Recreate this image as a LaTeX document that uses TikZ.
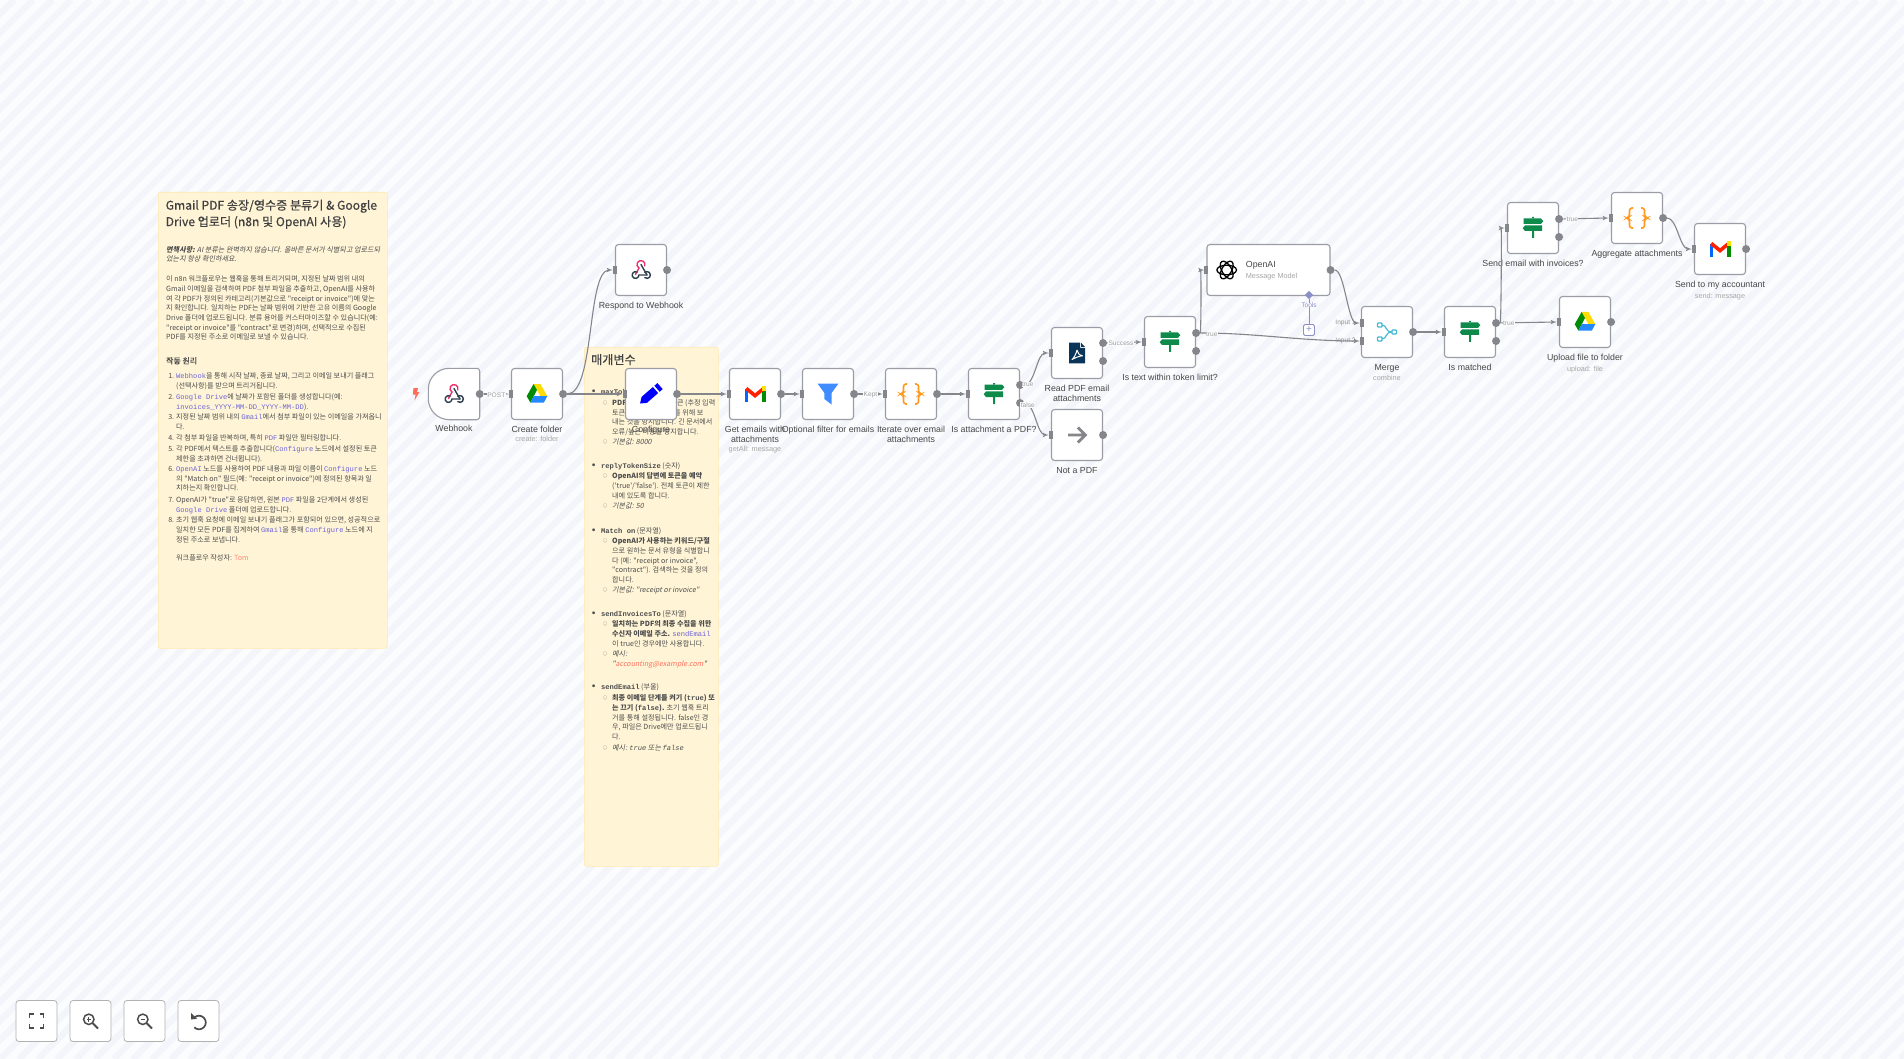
\documentclass[tikz,border=0pt]{standalone}
\usepackage{fontspec}
\setmainfont{Liberation Sans}
\setmonofont{Liberation Mono}
\newfontfamily\krfont{Noto Sans CJK KR}
\newfontfamily\krslant[FakeSlant=0.2]{Noto Sans CJK KR}
\newfontfamily\krhead[FakeBold=0.5]{Noto Sans CJK KR}
\usetikzlibrary{shapes,arrows,positioning}

\definecolor{canvasbg}{HTML}{FBFCFE}
\definecolor{stripebg}{HTML}{F4F5FA}
\definecolor{notefill}{HTML}{FFF4D6}
\definecolor{noteedge}{HTML}{FFE9AE}
\definecolor{boxedge}{HTML}{9A9CA6}
\definecolor{wire}{HTML}{85858C}
\definecolor{codeblue}{HTML}{6B63D8}
\definecolor{coral}{HTML}{FF6D5A}
\definecolor{bodytext}{HTML}{4C4C4C}
\definecolor{toolblue}{HTML}{8A8FC8}
\definecolor{signgreen}{HTML}{0E8A4A}
\definecolor{bracecol}{HTML}{FF9A1F}
\definecolor{pdfnavy}{HTML}{0B3558}
\definecolor{mergeteal}{HTML}{45B8D3}
\definecolor{hookpink}{HTML}{E8316B}
\definecolor{hookdark}{HTML}{2F3F4F}

\newcommand{\cod}[1]{{\ttfamily\color{codeblue}#1}}
\newcommand{\keyw}[1]{{\ttfamily\bfseries #1}}
\newcommand{\topdot}{\llap{\raisebox{1.6pt}{\fontsize{3.2}{4}\selectfont ●}\hspace{6pt}}}
\newcommand{\subdot}{\llap{\raisebox{1.1pt}{\fontsize{4.2}{5}\selectfont ○}\hspace{5pt}}}

% Icons
\tikzset{
  hookicon/.pic={
    \draw [hookpink, line width=1.4pt, line cap=round] (-5.5,4.5) -- (-2,-2) arc (120:380:4);
    \draw [hookdark, line width=1.4pt, line cap=round] (0,-5.5) -- (6,5);
    \draw [hookdark, line width=1.4pt, line cap=round] (-3.8,2.1) arc (-60:-360:3.4) -- (6,5);
    \draw [hookdark, line width=1.4pt, line cap=round] (3.8,7.6) arc (130:-130:3.4);
  },
  driveicon/.pic={
    \fill [yellow!80!orange] (-3.4,-10) -- (3.4,-10) -- (10.3,2.2) -- (3.4,2.2) -- cycle;
    \fill [green!55!black] (-3.4,-10) -- (0,-4) -- (-6.6,8.6) -- (-10.3,2.2) -- cycle;
    \fill [blue!55!cyan!85] (-3.4,2.2) -- (10.3,2.2) -- (6.8,8.6) -- (-6.6,8.6) -- cycle;
  },
  penicon/.pic={
    \begin{scope}[rotate=41]
      \fill [blue] (-14.5,0) -- (-9,-4) -- (6,-4) -- (6,4) -- (-9,4) -- cycle;
      \fill [blue] (8,-4) -- (12,-4) -- (12,4) -- (8,4) -- cycle;
    \end{scope}
  },
  gmailicon/.pic={
    \fill [blue!60!cyan] (-10.5,-5) rectangle (-6.6,7.6);
    \fill [green!55!black] (6.6,-5) rectangle (10.5,7.6);
    \draw [red!75!orange, line width=3.6pt] (-8.8,-5.6) -- (0,1.6) -- (8.8,-5.6);
    \fill [yellow!85!orange] (6.8,-7.6) rectangle (10.5,-3.4);
  },
  filtericon/.pic={
    \fill [blue!60!cyan!75] (-10.5,-10.5) -- (10.5,-10.5) -- (3.6,-1) -- (3.6,10.5) -- (-3.6,5) -- (-3.6,-1) -- cycle;
  },
  braceicon/.pic={
    \draw [bracecol, line width=1.6pt, rounded corners=2.5pt]
      (-4,-10) -- (-7.5,-10) -- (-7.5,-1.2) -- (-10.5,0) -- (-7.5,1.2) -- (-7.5,10) -- (-4,10)
      (4,-10) -- (7.5,-10) -- (7.5,-1.2) -- (10.5,0) -- (7.5,1.2) -- (7.5,10) -- (4,10);
  },
  signicon/.pic={
    \fill [signgreen] (-1,-11) rectangle (1,-9.5) (-1,3.2) rectangle (1,10);
    \fill [signgreen] (-9.5,-9.5) -- (8,-9.5) -- (10.3,-6.8) -- (8,-4.2) -- (-9.5,-4.2) -- cycle;
    \fill [signgreen] (9,-2.6) -- (-8,-2.6) -- (-10.3,0.2) -- (-8,3) -- (9,3) -- cycle;
  },
  pdficon/.pic={
    \fill [pdfnavy] (-8,-10.3) -- (3,-10.3) -- (3,-5) -- (8,-5) -- (8,10.3) -- (-8,10.3) -- cycle;
    \fill [pdfnavy] (4,-10.3) -- (8,-6) -- (4,-6) -- cycle;
    \draw [white, line width=1pt, line join=round] (0,-3) .. controls (-1,1) and (-3,5) .. (-5,6.5)
      .. controls (-2,5) and (2,3) .. (5.5,2.8) .. controls (2,2) and (0.5,0) .. (0,-3);
  },
  nexticon/.pic={
    \draw [wire, line width=2.8pt] (-9,0) -- (8,0) (0.8,-7.5) -- (8.4,0) -- (0.8,7.5);
  },
  aiicon/.pic={
    \foreach \a in {0,60,120}
      \draw [black, line width=1.3pt, rotate=\a] (0,0) ellipse (9.8 and 4.8);
  },
  mergeicon/.pic={
    \draw [mergeteal, line width=1.2pt, rounded corners=0.8pt] (-9.5,-9) rectangle (-5,-5) (-9.5,5) rectangle (-5,9) (5,-2) rectangle (9.5,2);
    \draw [mergeteal, line width=1.2pt] (-5,-7) .. controls (0,-7) and (-2,0) .. (5,0) (-5,7) .. controls (0,7) and (-2,0) .. (5,0);
  },
  fiticon/.pic={
    \draw [black!70, line width=1.9pt]
      (-7,-3) -- (-7,-7) -- (-3,-7) (3,-7) -- (7,-7) -- (7,-3)
      (7,3) -- (7,7) -- (3,7) (-3,7) -- (-7,7) -- (-7,3);
  },
  zoominicon/.pic={
    \draw [black!70, line width=1.5pt] (-1.7,-1.7) circle (5.2);
    \draw [black!70, line width=2pt] (2.2,2.2) -- (7.5,7.5);
    \draw [black!70, line width=1.2pt] (-4,-1.7) -- (0.6,-1.7) (-1.7,-4) -- (-1.7,0.6);
  },
  zoomouticon/.pic={
    \draw [black!70, line width=1.5pt] (-1.7,-1.7) circle (5.2);
    \draw [black!70, line width=2pt] (2.2,2.2) -- (7.5,7.5);
    \draw [black!70, line width=1.2pt] (-4,-1.7) -- (0.6,-1.7);
  },
  undoicon/.pic={
    \draw [black!70, line width=1.7pt] (-4.3,-3.3) arc (-135:135:6.8);
    \fill [black!70] (-7.5,-8) -- (-1.5,-2.2) -- (-7.5,-1.5) -- cycle;
  },
  bolticon/.pic={
    \fill [coral] (-2.5,-6) -- (2,-6) -- (1,-2) -- (3.4,-2) -- (-1.5,6.5) -- (-0.4,0.5) -- (-3.2,0.5) -- cycle;
  }
}

\begin{document}
\begin{tikzpicture}[x=1pt, y=-1pt, node distance=83pt]
        % Define block styles
        \tikzstyle{task} = [rectangle, draw=boxedge, line width=1.1pt, fill=white, rounded corners=3pt, minimum width=51pt, minimum height=51pt, inner sep=0pt]
        \tikzstyle{trigger} = [rectangle, minimum width=51pt, minimum height=51pt, inner sep=0pt]
        \tikzstyle{note} = [rectangle, draw=noteedge, line width=0.6pt, fill=notefill, rounded corners=2pt, anchor=north west, inner sep=0pt]
        \tikzstyle{dot} = [circle, fill=wire, minimum size=8pt, inner sep=0pt]
        \tikzstyle{tab} = [rectangle, fill=wire, minimum width=4pt, minimum height=8pt, inner sep=0pt]
        \tikzstyle{nodetitle} = [font=\fontsize{8.8}{10}\selectfont, text=black!72, align=center, inner sep=0pt]
        \tikzstyle{nodesub} = [font=\fontsize{7.3}{9}\selectfont, text=black!35, inner sep=0pt]
        \tikzstyle{edgelabel} = [font=\fontsize{6.6}{8}\selectfont, text=black!38, fill=canvasbg, inner sep=0.4pt, yshift=-0.8pt]
        \tikzstyle{portlabel} = [font=\fontsize{6.6}{8}\selectfont, text=black!42, inner sep=0pt]
        \tikzstyle{button} = [rectangle, draw=black!30, line width=0.8pt, fill=white, rounded corners=3pt, minimum size=41pt, inner sep=0pt]
        \tikzstyle{notetext} = [font=\fontsize{7.1}{9.7}\krfont\selectfont, text=bodytext, align=left, anchor=north west, inner sep=0pt]
        \tikzstyle{notehead} = [font=\fontsize{12.1}{16.4}\krhead\selectfont, text=black!75, align=left, anchor=north west, inner sep=0pt]
        \tikzstyle{line} = [draw=wire, line width=1.1pt, -latex']
        \tikzstyle{stripe} = [stripebg, line width=6.7pt]

        % Background
        \useasboundingbox (0,0) rectangle (1904,1059);
        \fill [canvasbg] (0,0) rectangle (1904,1059);
        \begin{scope}
            \clip (0,0) rectangle (1904,1059);
            \foreach \s in {-1064,-1045,...,1904}
                \draw [stripe] (\s,1059) -- (\s+1059,0);
        \end{scope}

        % Sticky notes
        \node [note, minimum width=229pt, minimum height=456pt] (howto) at (158,192) {};
        \node [notehead] (howtohead) at (165.5,199.5) {Gmail PDF 송장/영수증 분류기 \& Google\\Drive 업로더 (n8n 및 OpenAI 사용)};
        \node [notetext] (disclaimer) at (166,246) {\krslant{\bfseries 면책사항:} AI 분류는 완벽하지 않습니다. 올바른 문서가 식별되고 업로드되\\\krslant 었는지 항상 확인하세요.};
        \node [notetext] (intro) at (166,275.5) {이 n8n 워크플로우는 웹훅을 통해 트리거되며, 지정된 날짜 범위 내의\\Gmail 이메일을 검색하여 PDF 첨부 파일을 추출하고, OpenAI를 사용하\\여 각 PDF가 정의된 카테고리(기본값으로 "receipt or invoice")에 맞는\\지 확인합니다. 일치하는 PDF는 날짜 범위에 기반한 고유 이름의 Google\\Drive 폴더에 업로드됩니다. 분류 용어를 커스터마이즈할 수 있습니다(예:\\"receipt or invoice"를 "contract"로 변경)하며, 선택적으로 수집된\\PDF를 지정된 주소로 이메일로 보낼 수 있습니다.};
        \node [notetext, font=\fontsize{7.9}{10}\krhead\selectfont] (howhead) at (166,357) {작동 원리};
        \node [notetext] (stepone) at (176,372.5) {\llap{1.\hspace{2pt}}\cod{Webhook}을 통해 시작 날짜, 종료 날짜, 그리고 이메일 보내기 플래그\\(선택사항)를 받으며 트리거됩니다.};
        \node [notetext] (steptwo) at (176,393.5) {\llap{2.\hspace{2pt}}\cod{Google Drive}에 날짜가 포함된 폴더를 생성합니다(예:\\\cod{invoices\_YYYY-MM-DD\_YYYY-MM-DD}).};
        \node [notetext] (stepthree) at (176,413.5) {\llap{3.\hspace{2pt}}지정된 날짜 범위 내의 \cod{Gmail}에서 첨부 파일이 있는 이메일을 가져옵니\\다.};
        \node [notetext] (stepfour) at (176,434.5) {\llap{4.\hspace{2pt}}각 첨부 파일을 반복하며, 특히 \cod{PDF} 파일만 필터링합니다.};
        \node [notetext] (stepfive) at (176,445.5) {\llap{5.\hspace{2pt}}각 PDF에서 텍스트를 추출합니다(\cod{Configure} 노드에서 설정된 토큰\\제한을 초과하면 건너뜁니다).};
        \node [notetext] (stepsix) at (176,465.5) {\llap{6.\hspace{2pt}}\cod{OpenAI} 노드를 사용하여 PDF 내용과 파일 이름이 \cod{Configure} 노드\\의 "Match on" 필드(예: "receipt or invoice")에 정의된 항목과 일\\치하는지 확인합니다.};
        \node [notetext] (stepseven) at (176,496.5) {\llap{7.\hspace{2pt}}OpenAI가 "true"로 응답하면, 원본 \cod{PDF} 파일을 2단계에서 생성된\\\cod{Google Drive} 폴더에 업로드합니다.};
        \node [notetext] (stepeight) at (176,516.5) {\llap{8.\hspace{2pt}}초기 웹훅 요청에 이메일 보내기 플래그가 포함되어 있으면, 성공적으로\\일치한 모든 PDF를 집계하여 \cod{Gmail}을 통해 \cod{Configure} 노드에 지\\정된 주소로 보냅니다.};
        \node [notetext] (credit) at (176,554.5) {워크플로우 작성자: \textcolor{coral!80}{Tom}};

        \node [note, minimum width=134pt, minimum height=519pt] (params) at (584,347) {};
        \node [notehead] (paramshead) at (591,354) {매개변수};
        \node [notetext] (maxkey) at (601,388.5) {\topdot\keyw{maxTokenSize} (숫자)};
        \node [notetext] (maxtext) at (612,399.5) {\subdot{\bfseries PDF}에서 허용 최대 토큰 (추정 입력\\토큰). 초과 요청 오류를 위해 보\\내는 것을 방지합니다. 긴 문서에서\\오류/높은 비용을 방지합니다.};
        \node [notetext] (maxdefault) at (612,438.5) {\subdot\krslant 기본값: 8000};
        \node [notetext] (replykey) at (601,462.5) {\topdot\keyw{replyTokenSize} (숫자)};
        \node [notetext] (replytext) at (612,472.5) {\subdot{\bfseries OpenAI의 답변에 토큰을 예약}\\('true'/'false'). 전체 토큰이 제한\\내에 있도록 합니다.};
        \node [notetext] (replydefault) at (612,502.5) {\subdot\krslant 기본값: 50};
        \node [notetext] (matchkey) at (601,527.5) {\topdot\keyw{Match on} (문자열)};
        \node [notetext] (matchtext) at (612,537.5) {\subdot{\bfseries OpenAI가 사용하는 키워드/구절}\\으로 원하는 문서 유형을 식별합니\\다 (예: "receipt or invoice",\\"contract"). 검색하는 것을 정의\\합니다.};
        \node [notetext] (matchdefault) at (612,586.5) {\subdot\krslant 기본값: "receipt or invoice"};
        \node [notetext] (sendkey) at (601,610.5) {\topdot\keyw{sendInvoicesTo} (문자열)};
        \node [notetext] (sendtext) at (612,620.5) {\subdot{\bfseries 일치하는 PDF의 최종 수집을 위한}\\{\bfseries 수신자 이메일 주소.} \cod{sendEmail}\\이 true인 경우에만 사용합니다.};
        \node [notetext] (sendexample) at (612,650.5) {\subdot\krslant 예시:\\\krslant "\textcolor{coral}{accounting@example.com}"};
        \node [notetext] (emailkey) at (601,683.5) {\topdot\keyw{sendEmail} (부울)};
        \node [notetext] (emailtext) at (612,694.5) {\subdot{\bfseries 최종 이메일 단계를 켜기 (\keyw{true}) 또}\\{\bfseries 는 끄기 (\keyw{false}).} 초기 웹훅 트리\\거를 통해 설정됩니다. false인 경\\우, 파일은 Drive에만 업로드됩니\\다.};
        \node [notetext] (emailexample) at (612,744.5) {\subdot\krslant 예시: {\ttfamily\itshape true} 또는 {\ttfamily\itshape false}};

        % Nodes
        \node [trigger] (hook) at (454,394) {};
        \draw [draw=boxedge, fill=white, line width=1.1pt, rounded corners=3pt] (hook.north east) -- (hook.south east) [rounded corners=21pt] -- (hook.south west) -- (hook.north west) [rounded corners=3pt] -- cycle;
        \node [task, right of=hook] (folder) {};
        \node [task, right of=folder, node distance=114pt] (configure) {};
        \node [task, right of=configure, node distance=104pt] (getmail) {};
        \node [task, right of=getmail, node distance=73pt] (filter) {};
        \node [task, right of=filter] (iterate) {};
        \node [task, right of=iterate] (ispdf) {};
        \node [task, at={(1077,353)}] (readpdf) {};
        \node [task, below of=readpdf, node distance=82pt] (notpdf) {};
        \node [task, at={(641,270)}] (respond) {};
        \node [task, at={(1170,342)}] (limit) {};
        \node [task, minimum width=123pt, at={(1268.5,270)}] (openai) {};
        \node [task, at={(1387,332)}] (merge) {};
        \node [task, right of=merge] (matched) {};
        \node [task, at={(1533,228)}] (wantmail) {};
        \node [task, at={(1637,218)}] (collect) {};
        \node [task, at={(1720,249)}] (accountant) {};
        \node [task, at={(1585,322)}] (upload) {};

        % Icons
        \pic at (416,394) {bolticon};
        \pic at (hook) {hookicon};
        \pic at (folder) {driveicon};
        \pic at (respond) {hookicon};
        \pic at (configure) {penicon};
        \pic at (getmail) {gmailicon};
        \pic at (filter) {filtericon};
        \pic at (iterate) {braceicon};
        \pic at (ispdf) {signicon};
        \pic at (readpdf) {pdficon};
        \pic at (notpdf) {nexticon};
        \pic at (limit) {signicon};
        \pic at (1226.7,270) {aiicon};
        \pic at (merge) {mergeicon};
        \pic at (matched) {signicon};
        \pic at (wantmail) {signicon};
        \pic at (collect) {braceicon};
        \pic at (accountant) {gmailicon};
        \pic at (upload) {driveicon};

        % Captions
        \node [nodetitle, below=5.7pt of hook] (hookcap) {Webhook};
        \node [nodetitle, below=5.7pt of folder] (foldercap) {Create folder};
        \node [nodesub, below=3.4pt of foldercap] (foldersub) {create: folder};
        \node [nodetitle, below=5.7pt of respond] (respondcap) {Respond to Webhook};
        \node [nodetitle, below=5.7pt of configure] (configurecap) {Configure};
        \node [nodetitle, below=5.7pt of getmail] (getmailcap) {Get emails with\\attachments};
        \node [nodesub, below=3.4pt of getmailcap] (getmailsub) {getAll: message};
        \node [nodetitle, below=5.7pt of filter] (filtercap) {Optional filter for emails};
        \node [nodetitle, below=5.7pt of iterate] (iteratecap) {Iterate over email\\attachments};
        \node [nodetitle, below=5.7pt of ispdf] (ispdfcap) {Is attachment a PDF?};
        \node [nodetitle, below=5.7pt of readpdf] (readpdfcap) {Read PDF email\\attachments};
        \node [nodetitle, below=5.7pt of notpdf] (notpdfcap) {Not a PDF};
        \node [nodetitle, below=5.7pt of limit] (limitcap) {Is text within token limit?};
        \node [nodetitle, anchor=west] (openaicap) at (1245.7,265.5) {OpenAI};
        \node [nodesub, anchor=west] (openaisub) at (1245.7,277) {Message Model};
        \node [nodetitle, below=5.7pt of merge] (mergecap) {Merge};
        \node [nodesub, below=3.4pt of mergecap] (mergesub) {combine};
        \node [nodetitle, below=5.7pt of matched] (matchedcap) {Is matched};
        \node [nodetitle, below=5.7pt of wantmail] (wantmailcap) {Send email with invoices?};
        \node [nodetitle, below=5.7pt of collect] (collectcap) {Aggregate attachments};
        \node [nodetitle, below=5.7pt of accountant] (accountantcap) {Send to my accountant};
        \node [nodesub, below=3.4pt of accountantcap] (accountantsub) {send: message};
        \node [nodetitle, below=5.7pt of upload] (uploadcap) {Upload file to folder};
        \node [nodesub, below=3.4pt of uploadcap] (uploadsub) {upload: file};

        % Ports
        \node [dot] (hookout) at (hook.east) {};
        \node [tab] (folderin) at (folder.west) {};
        \node [dot] (folderout) at (folder.east) {};
        \node [tab] (respondin) at (respond.west) {};
        \node [dot] (respondout) at (respond.east) {};
        \node [tab] (configurein) at (configure.west) {};
        \node [dot] (configureout) at (configure.east) {};
        \node [tab] (getmailin) at (getmail.west) {};
        \node [dot] (getmailout) at (getmail.east) {};
        \node [tab] (filterin) at (filter.west) {};
        \node [dot] (filterout) at (filter.east) {};
        \node [tab] (iteratein) at (iterate.west) {};
        \node [dot] (iterateout) at (iterate.east) {};
        \node [tab] (ispdfin) at (ispdf.west) {};
        \node [dot, yshift=9pt] (ispdftrue) at (ispdf.east) {};
        \node [dot, yshift=-9pt] (ispdffalse) at (ispdf.east) {};
        \node [tab] (readpdfin) at (readpdf.west) {};
        \node [dot, yshift=10pt] (readpdfok) at (readpdf.east) {};
        \node [dot, yshift=-8pt] (readpdferr) at (readpdf.east) {};
        \node [tab] (notpdfin) at (notpdf.west) {};
        \node [dot] (notpdfout) at (notpdf.east) {};
        \node [tab] (limitin) at (limit.west) {};
        \node [dot, yshift=9pt] (limittrue) at (limit.east) {};
        \node [dot, yshift=-9pt] (limitfalse) at (limit.east) {};
        \node [tab] (openaiin) at (openai.west) {};
        \node [dot] (openaiout) at (openai.east) {};
        \node [tab] (mergeone) at (1362,323) {};
        \node [tab] (mergetwo) at (1362,341) {};
        \node [dot] (mergeout) at (merge.east) {};
        \node [tab] (matchedin) at (matched.west) {};
        \node [dot, yshift=9pt] (matchedtrue) at (matched.east) {};
        \node [dot, yshift=-9pt] (matchedfalse) at (matched.east) {};
        \node [tab] (wantmailin) at (wantmail.west) {};
        \node [dot, yshift=9pt] (wantmailtrue) at (wantmail.east) {};
        \node [dot, yshift=-9pt] (wantmailfalse) at (wantmail.east) {};
        \node [tab] (collectin) at (collect.west) {};
        \node [dot] (collectout) at (collect.east) {};
        \node [tab] (accountantin) at (accountant.west) {};
        \node [dot] (accountantout) at (accountant.east) {};
        \node [tab] (uploadin) at (upload.west) {};
        \node [dot] (uploadout) at (upload.east) {};

        % Tools port
        \node [diamond, fill=toolblue, minimum size=8.5pt, inner sep=0pt] (tooltip) at (1309,295) {};
        \node [rectangle, draw=toolblue, line width=0.9pt, fill=white, rounded corners=1.5pt, minimum size=11pt, inner sep=0pt, font=\fontsize{10}{10}\selectfont, text=toolblue] (toolplus) at (1309,330) {+};
        \draw [toolblue, line width=0.9pt] (tooltip) -- (toolplus);
        \node [portlabel, text=toolblue, fill=canvasbg] (toolcap) at (1309,305) {Tools};

        % Arrows
        \path [line] (hookout) -- node[edgelabel] {POST} (folderin.west);
        \path [line] (folderout) .. controls +(32,0) and +(-26,0) .. (respondin.west);
        \path [line] (folderout) -- (configurein.west);
        \path [line] (configureout) -- (getmailin.west);
        \path [line] (getmailout) -- (filterin.west);
        \path [line] (filterout) -- node[edgelabel] {Kept} (iteratein.west);
        \path [line] (iterateout) -- (ispdfin.west);
        \path [line] (ispdftrue) .. controls +(15,0) and +(-12,0) .. node[edgelabel, pos=0.12] {true} (readpdfin.west);
        \path [line] (ispdffalse) .. controls +(15,0) and +(-12,0) .. node[edgelabel, pos=0.12] {false} (notpdfin.west);
        \path [line] (readpdfok) -- node[edgelabel, pos=0.4] {Success} (limitin.west);
        \path [line] (limittrue) .. controls +(5,0) and +(-3,0) .. (openaiin.west);
        \path [line] (limittrue) .. controls +(60,0) and +(-60,0) .. node[edgelabel, pos=0.07] {true} (mergetwo.west);
        \path [line] (openaiout) .. controls +(14,0) and +(-12,0) .. (mergeone.west);
        \path [line] (mergeout) -- (matchedin.west);
        \path [line] (matchedtrue) .. controls +(5,0) and +(-3,0) .. (wantmailin.west);
        \path [line] (matchedtrue) -- node[edgelabel, pos=0.15] {true} (uploadin.west);
        \path [line] (wantmailtrue) -- node[edgelabel, pos=0.2] {true} (collectin.west);
        \path [line] (collectout) .. controls +(14,0) and +(-12,0) .. (accountantin.west);

        % Port labels
        \node [portlabel, left=4pt of mergeone] (onecap) {Input 1};
        \node [portlabel, left=4pt of mergetwo] (twocap) {Input 2};

        % Canvas buttons
        \node [button] (fitbtn) at (36.5,1021) {};
        \node [button, right of=fitbtn, node distance=54pt] (inbtn) {};
        \node [button, right of=inbtn, node distance=54pt] (outbtn) {};
        \node [button, right of=outbtn, node distance=54pt] (resetbtn) {};
        \pic at (fitbtn) {fiticon};
        \pic at (inbtn) {zoominicon};
        \pic at (outbtn) {zoomouticon};
        \pic at (resetbtn) {undoicon};
\end{tikzpicture}
\end{document}
